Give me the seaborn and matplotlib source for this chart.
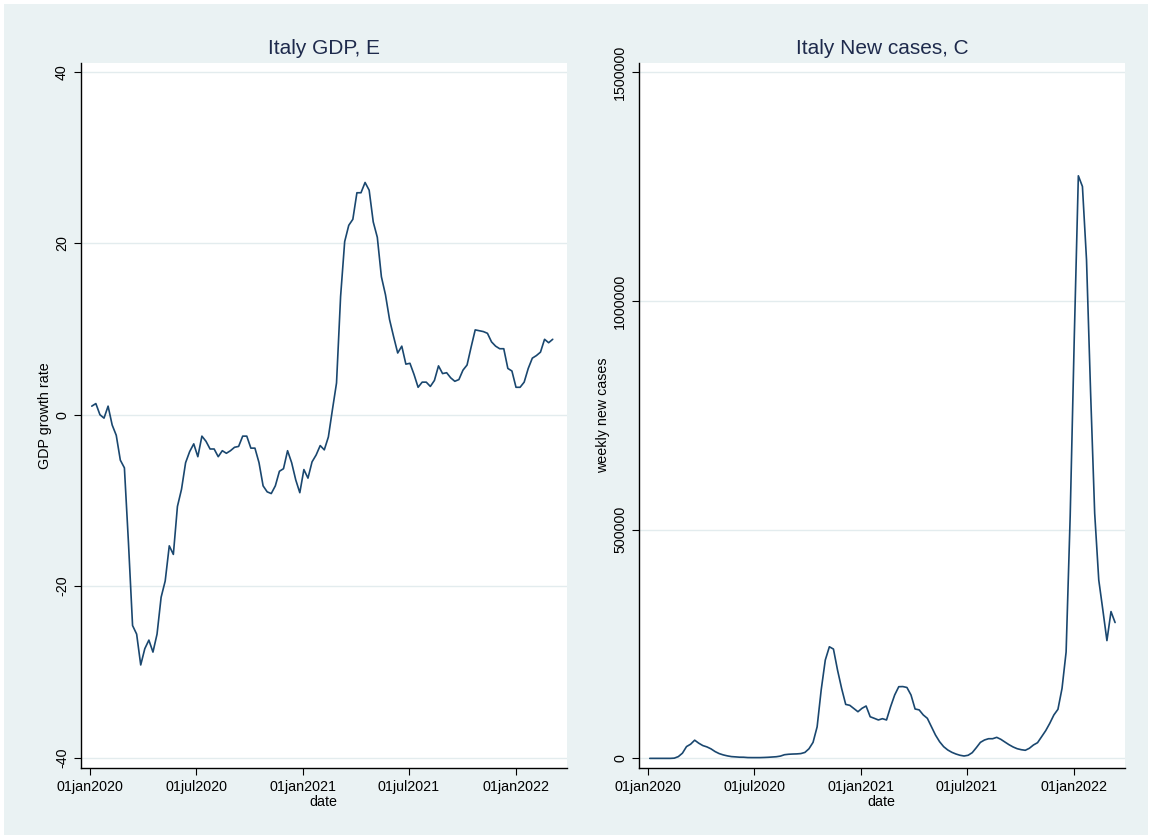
import numpy as np
import pandas as pd
import matplotlib
matplotlib.use("Agg")
import matplotlib.pyplot as plt
import matplotlib.dates as mdates
import matplotlib.ticker as mticker
from matplotlib.patches import Rectangle
import seaborn as sns

# Weekly observations, Italy
start_date = "2020-01-04"

gdp_growth = [
    1.0, 1.3, 0.0, -0.4, 1.0, -1.2, -2.4, -5.3, -6.2, -15.0,
    -24.6, -25.6, -29.2, -27.3, -26.3, -27.7, -25.6, -21.3, -19.4, -15.3,
    -16.3, -10.7, -8.7, -5.6, -4.3, -3.4, -4.9, -2.5, -3.1, -4.0,
    -4.0, -4.9, -4.2, -4.5, -4.2, -3.8, -3.7, -2.5, -2.5, -3.9,
    -3.9, -5.6, -8.3, -9.0, -9.2, -8.3, -6.6, -6.3, -4.2, -5.6,
    -7.6, -9.1, -6.4, -7.4, -5.5, -4.7, -3.6, -4.1, -2.6, 0.6,
    3.7, 13.8, 20.2, 22.1, 22.8, 25.9, 25.9, 27.1, 26.2, 22.5,
    20.7, 16.1, 14.0, 11.1, 9.1, 7.2, 8.0, 5.9, 6.0, 4.7,
    3.2, 3.8, 3.8, 3.3, 4.0, 5.7, 4.8, 4.9, 4.3, 3.9,
    4.1, 5.2, 5.8, 7.9, 9.9, 9.8, 9.7, 9.5, 8.5, 8.0,
    7.7, 7.7, 5.4, 5.1, 3.2, 3.2, 3.8, 5.4, 6.6, 6.9,
    7.3, 8.8, 8.4, 8.8,
]

new_cases = [
    0, 0, 0, 0, 0, 0, 500, 3900, 11400, 25800,
    31000, 39800, 33200, 28000, 25100, 20800, 14900, 10500, 7600, 5500,
    3900, 3300, 2600, 2500, 1800, 1700, 1700, 1700, 2000, 2400,
    3000, 3600, 5000, 8000, 9000, 9500, 9800, 10500, 13000, 21000,
    35000, 69000, 150000, 215000, 244000, 239000, 193000, 153000, 118000, 116000,
    109000, 102000, 109500, 114500, 91000, 87600, 84000, 86800, 84000, 113000,
    138600, 156700, 157000, 155000, 138600, 108000, 106000, 95000, 87600, 69300,
    51000, 36500, 25600, 18400, 13300, 9600, 6800, 5200, 6800, 12500,
    23400, 35000, 40200, 43000, 43000, 46000, 41700, 35800, 30000, 25000,
    21200, 19000, 17700, 22100, 29300, 34300, 47400, 60600, 76700, 94900,
    107300, 153000, 232600, 530000, 920000, 1273700, 1250300, 1090000, 800000, 536000,
    390000, 324500, 257500, 321000, 297000,
]

date_ticks = ["2020-01-01", "2020-07-01", "2021-01-01", "2021-07-01", "2022-01-01"]
gdp_ticks = [-40, -20, 0, 20, 40]
case_ticks = [0, 500000, 1000000, 1500000]

dates = pd.date_range(start_date, periods=len(new_cases), freq="7D")
gdp_df = pd.DataFrame({"date": dates[:len(gdp_growth)], "gdp": gdp_growth})
cases_df = pd.DataFrame({"date": dates, "cases": new_cases})

sns.set_theme(style="white")
plt.rcParams["font.family"] = ["Liberation Sans", "DejaVu Sans"]

BG = "#EAF2F3"
GRID = "#E3ECEE"
LINE = "#1A476F"
TITLE = "#1E2A4C"

W, H = 1152, 839
fig = plt.figure(figsize=(W / 100, H / 100), dpi=100, facecolor="white")
fig.patches.append(Rectangle((4 / W, 4 / H), (W - 8) / W, (H - 8) / H,
                             transform=fig.transFigure, facecolor=BG,
                             edgecolor="none", zorder=-10))

bottom = (H - 768.4) / H
height = (768.4 - 63) / H
ax1 = fig.add_axes([80.7 / W, bottom, 486 / W, height])
ax2 = fig.add_axes([638.7 / W, bottom, 486.3 / W, height])

xlim = (pd.Timestamp("2019-12-16"), pd.Timestamp("2022-03-29"))


def date_fmt(v, pos):
    return mdates.num2date(v).strftime("%d%b%Y").lower()


def style_axis(ax, title, ylabel, yticks, ylim, yfmt):
    ax.set_facecolor("white")
    for s in ["top", "right"]:
        ax.spines[s].set_visible(False)
    for s in ["left", "bottom"]:
        ax.spines[s].set_color("black")
        ax.spines[s].set_linewidth(1.0)
    ax.set_xlim(*xlim)
    ax.set_ylim(*ylim)
    ax.set_xticks(pd.to_datetime(date_ticks))
    ax.xaxis.set_major_formatter(mticker.FuncFormatter(date_fmt))
    ax.set_yticks(yticks)
    ax.yaxis.set_major_formatter(mticker.FuncFormatter(yfmt))
    ax.yaxis.grid(True, color=GRID, linewidth=1.0)
    ax.xaxis.grid(False)
    ax.set_axisbelow(True)
    ax.tick_params(axis="both", which="major", direction="out", length=4.8,
                   width=0.8, color="black", labelsize=10.3, pad=3.6,
                   labelcolor="black", left=True, bottom=True)
    for lab in ax.get_yticklabels():
        lab.set_rotation(90)
        lab.set_va("center")
    ax.set_title(title, fontsize=15, color=TITLE, pad=6.5)
    ax.set_xlabel("date", fontsize=10.3, color="black", labelpad=1.0)
    ax.set_ylabel(ylabel, fontsize=10.3, color="black", labelpad=2.0)


sns.lineplot(data=gdp_df, x="date", y="gdp", ax=ax1, color=LINE, linewidth=1.2)
sns.lineplot(data=cases_df, x="date", y="cases", ax=ax2, color=LINE, linewidth=1.2)

style_axis(ax1, "Italy GDP, E", "GDP growth rate", gdp_ticks, (-41.27, 41.04),
           lambda v, p: f"{v:.0f}")
style_axis(ax2, "Italy New cases, C", "weekly new cases", case_ticks, (-21900, 1520300),
           lambda v, p: f"{v:.0f}")

fig.savefig("out.png", dpi=100, facecolor="white")
